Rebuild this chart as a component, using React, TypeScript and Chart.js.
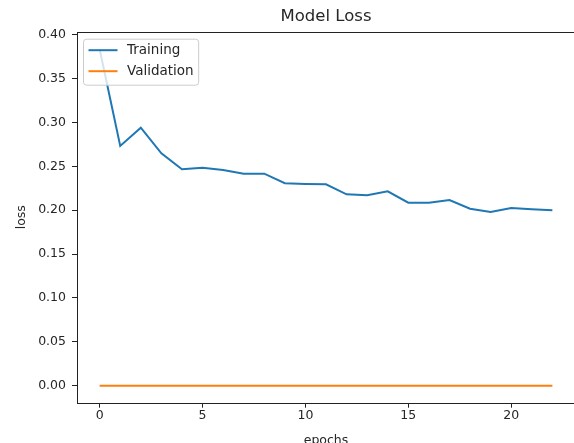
import React, { useEffect, useRef } from "react";
import { Chart, registerables } from "chart.js";

Chart.register(...registerables);

const epochs = [0, 1, 2, 3, 4, 5, 6, 7, 8, 9, 10, 11, 12, 13, 14, 15, 16, 17, 18, 19, 20, 21, 22];
const trainingLoss = [
  0.3834, 0.2732, 0.294, 0.2648, 0.2466, 0.2484, 0.2458, 0.2416, 0.2416, 0.2307, 0.2299, 0.2295,
  0.2181, 0.217, 0.2215, 0.2085, 0.2085, 0.2116, 0.2017, 0.1979, 0.2025, 0.201, 0.1999,
];
const validationLoss = [0, 0, 0, 0, 0, 0, 0, 0, 0, 0, 0, 0, 0, 0, 0, 0, 0, 0, 0, 0, 0, 0, 0];
const xTicks = [0, 5, 10, 15, 20];
const yTicks = [0, 0.05, 0.1, 0.15, 0.2, 0.25, 0.3, 0.35, 0.4];
const seriesNames = ["Training", "Validation"];
const seriesColors = ["#1f77b4", "#ff7f0e"];

const FONT = '"DejaVu Sans", sans-serif';
const TEXT = "#262626";
const CANVAS_W = 590;
const CANVAS_H = 460;

const framePlugin = {
  id: "mplFrame",
  afterDatasetsDraw(chart: any) {
    const ctx = chart.ctx;
    const { left, top, right, bottom } = chart.chartArea;
    ctx.save();
    ctx.strokeStyle = "#222";
    ctx.lineWidth = 1;
    ctx.strokeRect(Math.round(left) + 0.5, Math.round(top) + 0.5, Math.round(right - left), Math.round(bottom - top));

    // legend
    ctx.font = `13.5px ${FONT}`;
    const x0 = left + 6.5;
    const y0 = top + 7.5;
    let maxW = 0;
    seriesNames.forEach((n) => (maxW = Math.max(maxW, ctx.measureText(n).width)));
    const w = 43.5 + maxW + 5;
    const h = 46;
    const r = 3;
    ctx.beginPath();
    ctx.moveTo(x0 + r, y0);
    ctx.lineTo(x0 + w - r, y0);
    ctx.quadraticCurveTo(x0 + w, y0, x0 + w, y0 + r);
    ctx.lineTo(x0 + w, y0 + h - r);
    ctx.quadraticCurveTo(x0 + w, y0 + h, x0 + w - r, y0 + h);
    ctx.lineTo(x0 + r, y0 + h);
    ctx.quadraticCurveTo(x0, y0 + h, x0, y0 + h - r);
    ctx.lineTo(x0, y0 + r);
    ctx.quadraticCurveTo(x0, y0, x0 + r, y0);
    ctx.closePath();
    ctx.fillStyle = "rgba(255,255,255,0.8)";
    ctx.fill();
    ctx.strokeStyle = "#cccccc";
    ctx.stroke();
    seriesNames.forEach((n, i) => {
      const yy = y0 + 11 + i * 21;
      ctx.strokeStyle = seriesColors[i];
      ctx.lineWidth = 2;
      ctx.beginPath();
      ctx.moveTo(x0 + 5, yy);
      ctx.lineTo(x0 + 34, yy);
      ctx.stroke();
      ctx.fillStyle = TEXT;
      ctx.textBaseline = "middle";
      ctx.textAlign = "left";
      ctx.fillText(n, x0 + 43.5, yy);
    });
    ctx.restore();
  },
};

export default function App() {
  const ref = useRef<HTMLCanvasElement>(null);
  useEffect(() => {
    if (!ref.current) return;
    const chart = new Chart(ref.current, {
      type: "line",
      data: {
        datasets: [
          {
            label: seriesNames[0],
            data: epochs.map((e, i) => ({ x: e, y: trainingLoss[i] })),
            borderColor: seriesColors[0],
            backgroundColor: seriesColors[0],
            borderWidth: 2,
            pointRadius: 0,
            tension: 0,
          },
          {
            label: seriesNames[1],
            data: epochs.map((e, i) => ({ x: e, y: validationLoss[i] })),
            borderColor: seriesColors[1],
            backgroundColor: seriesColors[1],
            borderWidth: 2,
            pointRadius: 0,
            tension: 0,
          },
        ],
      },
      options: {
        responsive: false,
        devicePixelRatio: 1,
        animation: false,
        layout: { padding: { left: 0, right: 15, top: 0, bottom: 0 } },
        plugins: {
          legend: { display: false },
          tooltip: { enabled: false },
          title: {
            display: true,
            text: "Model Loss",
            fullSize: false,
            color: TEXT,
            font: { family: FONT, size: 16.5, weight: "normal" as any, lineHeight: 1.2 },
            padding: { top: 7.1, bottom: 4.8 },
          },
        },
        scales: {
          x: {
            type: "linear",
            min: -1.1,
            max: 23.1,
            afterBuildTicks: (s: any) => {
              s.ticks = xTicks.map((v) => ({ value: v }));
            },
            afterFit: (s: any) => {
              s.height = CANVAS_H - 402.7;
            },
            grid: { drawOnChartArea: false, drawTicks: true, tickLength: 5, color: "#222", lineWidth: 1 },
            border: { display: false },
            ticks: {
              autoSkip: false,
              maxRotation: 0,
              padding: 1,
              color: TEXT,
              font: { family: FONT, size: 12.5 },
              callback: (v: any) => String(v),
            },
            title: {
              display: true,
              text: "epochs",
              color: TEXT,
              font: { family: FONT, size: 12.5, lineHeight: 1.2 },
              padding: { top: 0, bottom: 11.5 },
            },
          },
          y: {
            type: "linear",
            min: -0.0194,
            max: 0.4034,
            afterBuildTicks: (s: any) => {
              s.ticks = yTicks.map((v) => ({ value: v }));
            },
            afterFit: (s: any) => {
              s.width = 77;
            },
            grid: { drawOnChartArea: false, drawTicks: true, tickLength: 5, color: "#222", lineWidth: 1 },
            border: { display: false },
            ticks: {
              autoSkip: false,
              padding: 6,
              color: TEXT,
              font: { family: FONT, size: 12.5 },
              callback: (v: any) => Number(v).toFixed(2),
            },
            title: {
              display: true,
              text: "loss",
              color: TEXT,
              font: { family: FONT, size: 12.5, lineHeight: 1.2 },
              padding: { top: 14.5, bottom: 0 },
            },
          },
        },
      },
      plugins: [framePlugin],
    });
    return () => chart.destroy();
  }, []);
  return (
    <div
      style={{
        position: "fixed",
        left: 0,
        top: 0,
        width: 574,
        height: 443,
        overflow: "hidden",
        background: "#fff",
      }}
    >
      <canvas ref={ref} width={CANVAS_W} height={CANVAS_H} style={{ display: "block" }} />
    </div>
  );
}
